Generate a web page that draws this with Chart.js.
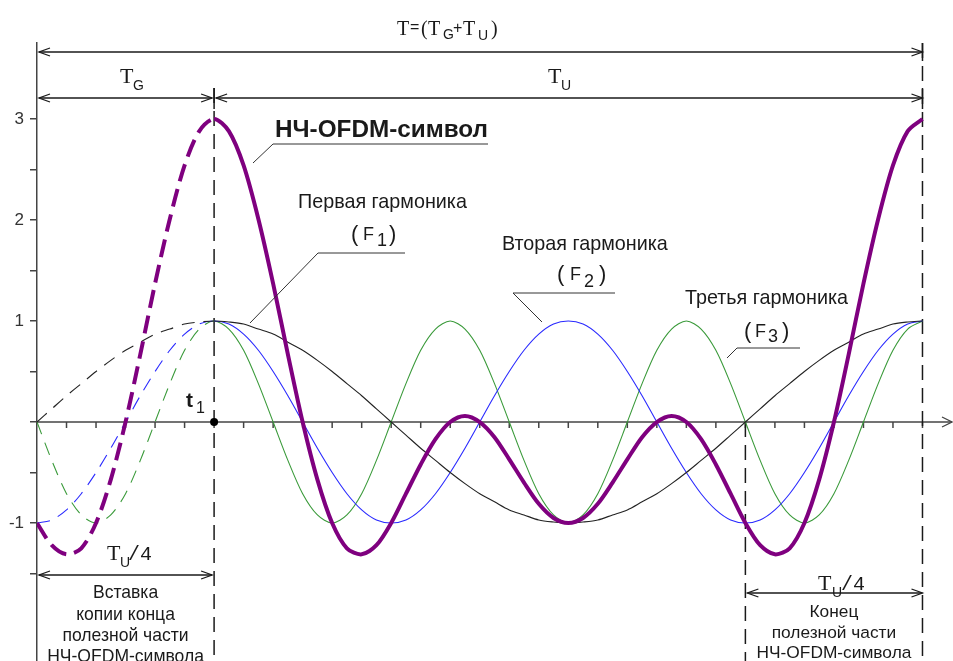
<!DOCTYPE html>
<html>
<head>
<meta charset="utf-8">
<script src="https://cdn.jsdelivr.net/npm/chart.js@4.4.1/dist/chart.umd.min.js"></script>
<style>
  html, body { margin: 0; padding: 0; background: #fff; }
  canvas { display: block; }
</style>
</head>
<body>
<canvas id="c" width="953" height="661"></canvas>
<script>
// time axis in samples: T_U = 48 samples, guard T_G = T_U/4 = 12 samples (t1 = 0)
const tSamples = [-12,-11,-10,-9,-8,-7,-6,-5,-4,-3,-2,-1,
  0,1,2,3,4,5,6,7,8,9,10,11,12,13,14,15,16,17,18,19,20,21,22,23,
  24,25,26,27,28,29,30,31,32,33,34,35,36,37,38,39,40,41,42,43,44,45,46,47,48];

// first harmonic F1
const harm1 = [0,0.13,0.26,0.38,0.5,0.61,0.71,0.79,0.87,0.92,0.97,0.99,
  1,0.99,0.97,0.92,0.87,0.79,0.71,0.61,0.5,0.38,0.26,0.13,
  0,-0.13,-0.26,-0.38,-0.5,-0.61,-0.71,-0.79,-0.87,-0.92,-0.97,-0.99,
  -1,-0.99,-0.97,-0.92,-0.87,-0.79,-0.71,-0.61,-0.5,-0.38,-0.26,-0.13,
  0,0.13,0.26,0.38,0.5,0.61,0.71,0.79,0.87,0.92,0.97,0.99,
  1];

// second harmonic F2
const harm2 = [-1,-0.97,-0.87,-0.71,-0.5,-0.26,0,0.26,0.5,0.71,0.87,0.97,
  1,0.97,0.87,0.71,0.5,0.26,0,-0.26,-0.5,-0.71,-0.87,-0.97,
  -1,-0.97,-0.87,-0.71,-0.5,-0.26,0,0.26,0.5,0.71,0.87,0.97,
  1,0.97,0.87,0.71,0.5,0.26,0,-0.26,-0.5,-0.71,-0.87,-0.97,
  -1,-0.97,-0.87,-0.71,-0.5,-0.26,0,0.26,0.5,0.71,0.87,0.97,
  1];

// third harmonic F3
const harm3 = [0,-0.38,-0.71,-0.92,-1,-0.92,-0.71,-0.38,0,0.38,0.71,0.92,
  1,0.92,0.71,0.38,0,-0.38,-0.71,-0.92,-1,-0.92,-0.71,-0.38,0,0.38,0.71,0.92,
  1,0.92,0.71,0.38,0,-0.38,-0.71,-0.92,-1,-0.92,-0.71,-0.38,0,0.38,0.71,0.92,
  1,0.92,0.71,0.38,0,-0.38,-0.71,-0.92,-1,-0.92,-0.71,-0.38,0,0.38,0.71,0.92,
  1];

// НЧ-OFDM symbol (sum of the three)
const symbol = [-1,-1.22,-1.31,-1.25,-1,-0.57,0,0.67,1.37,2.01,2.54,2.88,
  3,2.88,2.54,2.01,1.37,0.67,0,-0.57,-1,-1.25,-1.31,-1.22,
  -1,-0.71,-0.42,-0.17,0,0.06,0,-0.15,-0.37,-0.6,-0.81,-0.95,
  -1,-0.95,-0.81,-0.6,-0.37,-0.15,0,0.06,0,-0.17,-0.42,-0.71,
  -1,-1.22,-1.31,-1.25,-1,-0.57,0,0.67,1.37,2.01,2.54,2.88,
  3];

const yTicks = [-1.5, -1, -0.5, 0, 0.5, 1, 1.5, 2, 2.5, 3];
const yLabels = { "3": "3", "2": "2", "1": "1", "-1": "-1" };

const INK = "#1a1a1a";
const AXIS = "#444";
const SANS = '"Liberation Sans", Arial, sans-serif';
const SERIF = '"Liberation Serif", "Times New Roman", serif';
const MONO = '"Liberation Mono", "Courier New", monospace';

function series(label, values, color, width, dash) {
  return {
    label,
    data: tSamples.map((t, i) => ({ x: t, y: values[i] })),
    borderColor: color,
    borderWidth: width,
    pointRadius: 0,
    tension: 0.3,
    borderJoinStyle: "round",
    segment: { borderDash: (ctx) => (ctx.p1.parsed.x <= 0 ? dash : undefined) }
  };
}

function seg(ctx, pts, w, color, dash) {
  ctx.save();
  ctx.beginPath();
  ctx.lineWidth = w;
  ctx.strokeStyle = color;
  ctx.setLineDash(dash || []);
  pts.forEach((p, i) => (i ? ctx.lineTo(p[0], p[1]) : ctx.moveTo(p[0], p[1])));
  ctx.stroke();
  ctx.restore();
}

function head(ctx, x, y, dir, color, len, half) {
  seg(ctx, [[x - dir * (len || 11), y - (half || 4)], [x, y], [x - dir * (len || 11), y + (half || 4)]], 1.3, color || INK);
}

function dim(ctx, x1, x2, y) {
  seg(ctx, [[x1, y], [x2, y]], 1.5, INK);
  head(ctx, x1, y, -1);
  head(ctx, x2, y, 1);
}

function txt(ctx, s, x, y, font, align, color) {
  ctx.save();
  ctx.font = font;
  ctx.textAlign = align || "left";
  ctx.textBaseline = "alphabetic";
  ctx.fillStyle = color || INK;
  ctx.fillText(s, x, y);
  ctx.restore();
}

function sizeFor(ctx, s, width, weight, family) {
  ctx.save();
  ctx.font = `${weight} 100px ${family}`;
  const w = ctx.measureText(s).width;
  ctx.restore();
  return 100 * width / w;
}

function glyphs(ctx, list) {
  list.forEach(([s, x, y, font]) => txt(ctx, s, x, y, font));
}

function block(ctx, lines, cx, baselines, widest, width) {
  const size = sizeFor(ctx, widest, width, "normal", SANS);
  lines.forEach((s, i) => txt(ctx, s, cx, baselines[i], `${size}px ${SANS}`, "center"));
}

const annot = {
  id: "annot",
  beforeDatasetsDraw(chart) {
    const { ctx, chartArea, scales: { x, y } } = chart;
    const X = (v) => x.getPixelForValue(v);
    const y0 = y.getPixelForValue(0);
    const bot = chartArea.bottom;

    // horizontal time axis with arrow
    seg(ctx, [[X(-12), y0], [chartArea.right, y0]], 1.5, AXIS);
    head(ctx, chartArea.right, y0, 1, AXIS, 10, 5);
    for (let t = -10; t <= 48; t += 2) seg(ctx, [[X(t), y0], [X(t), y0 + 6]], 1.5, AXIS);

    // dashed boundaries
    const dash = [15, 8];
    seg(ctx, [[X(0), 88], [X(0), bot]], 1.5, INK, dash);
    seg(ctx, [[X(48), 43], [X(48), bot]], 1.5, INK, dash);
    seg(ctx, [[X(36), y0], [X(36), bot]], 1.5, INK, dash);
    seg(ctx, [[X(0), 88], [X(0), 109]], 1.5, INK);
    seg(ctx, [[X(48), 43], [X(48), 61]], 1.5, INK);
    seg(ctx, [[X(48), 88], [X(48), 109]], 1.5, INK);
  },
  afterDatasetsDraw(chart) {
    const { ctx, scales: { x, y } } = chart;
    const X = (v) => x.getPixelForValue(v);
    const y0 = y.getPixelForValue(0);
    const T = `20px ${SERIF}`;
    const TB = `22px ${SERIF}`;
    const SUB = `14px ${SANS}`;
    const OP = `16px ${SANS}`;
    const PAR = `22px ${SANS}`;
    const F = `18px ${SANS}`;

    // dimension arrows
    dim(ctx, X(-12) + 2, X(48), 52);
    dim(ctx, X(-12) + 2, X(0) - 2, 98);
    dim(ctx, X(0) + 2, X(48), 98);
    dim(ctx, X(-12) + 2, X(0) - 2, 575);
    dim(ctx, X(36) + 2, X(48), 593);

    // period labels
    glyphs(ctx, [
      ["T", 397, 35, T], ["=", 410, 32, OP], ["(", 421, 35, `20px ${SERIF}`],
      ["T", 428, 35, T], ["G", 443, 39, SUB], ["+", 453, 33, OP],
      ["T", 463, 35, T], ["U", 478, 40, SUB], [")", 491, 35, `20px ${SERIF}`],
      ["T", 120, 83, TB], ["G", 133, 90, SUB],
      ["T", 548, 83, TB], ["U", 561, 90, SUB],
      ["T", 107, 560, TB], ["U", 120, 567, SUB], ["/", 128, 560, `20px ${MONO}`], ["4", 140, 560, `20px ${MONO}`],
      ["T", 818, 590, TB], ["U", 832, 597, SUB], ["/", 841, 590, `20px ${MONO}`], ["4", 853, 590, `20px ${MONO}`]
    ]);

    // symbol label with leader
    const big = sizeFor(ctx, "НЧ-OFDM-символ", 213, "bold", SANS);
    txt(ctx, "НЧ-OFDM-символ", 275, 137, `bold ${big}px ${SANS}`);
    seg(ctx, [[253, 163], [273, 144], [488, 144]], 1, "#333");

    // harmonic labels
    const hs = sizeFor(ctx, "Первая гармоника", 169, "normal", SANS);
    const hf = `${hs}px ${SANS}`;
    txt(ctx, "Первая гармоника", 298, 208, hf);
    txt(ctx, "Вторая гармоника", 502, 250, hf);
    txt(ctx, "Третья гармоника", 685, 304, hf);
    glyphs(ctx, [
      ["(", 351, 241, PAR], ["F", 363, 240, F], ["1", 377, 246, F], [")", 389, 241, PAR],
      ["(", 557, 281, PAR], ["F", 570, 280, F], ["2", 584, 287, F], [")", 599, 281, PAR],
      ["(", 744, 338, PAR], ["F", 755, 337, F], ["3", 768, 342, F], [")", 782, 338, PAR]
    ]);
    seg(ctx, [[250, 323], [318, 253], [405, 253]], 1, "#333");
    seg(ctx, [[542, 322], [513, 293], [615, 293]], 1, "#333");
    seg(ctx, [[727, 358], [737, 348], [800, 348]], 1, "#333");

    // t1 marker
    ctx.save();
    ctx.fillStyle = "#000";
    ctx.beginPath();
    ctx.arc(X(0), y0, 4, 0, Math.PI * 2);
    ctx.fill();
    ctx.restore();
    txt(ctx, "t", 186, 407, `bold 21px ${SANS}`);
    txt(ctx, "1", 196, 413, `16px ${SANS}`);

    // bottom captions
    block(ctx, ["Вставка", "копии конца", "полезной части", "НЧ-OFDM-символа"],
      (X(-12) + X(0)) / 2, [598, 620, 641, 662], "НЧ-OFDM-символа", 157);
    block(ctx, ["Конец", "полезной части", "НЧ-OFDM-символа"],
      (X(36) + X(48)) / 2, [617, 638, 658], "НЧ-OFDM-символа", 155);
  }
};

new Chart(document.getElementById("c"), {
  type: "line",
  data: {
    datasets: [
      series("НЧ-OFDM-символ", symbol, "#7f007f", 4, [18, 8]),
      series("Первая гармоника (F1)", harm1, "#222", 1.1, [13, 9]),
      series("Вторая гармоника (F2)", harm2, "#2a2aff", 1.1, [13, 9]),
      series("Третья гармоника (F3)", harm3, "#3a9a3a", 1.1, [13, 9])
    ]
  },
  options: {
    responsive: false,
    animation: false,
    devicePixelRatio: 1,
    layout: { padding: { top: 43, right: 1, bottom: 0, left: 0 } },
    plugins: { legend: { display: false }, tooltip: { enabled: false } },
    scales: {
      x: { type: "linear", display: false, min: -12, max: 50 },
      y: {
        type: "linear",
        min: -2.366,
        max: 3.752,
        afterBuildTicks(scale) {
          scale.ticks = yTicks.map((v) => ({ value: v }));
        },
        afterFit(scale) {
          scale.width = 37;
          scale.paddingTop = 0;
          scale.paddingBottom = 0;
        },
        grid: { drawOnChartArea: false, drawTicks: true, tickLength: 7, color: AXIS, lineWidth: 1.5 },
        border: { display: true, color: AXIS, width: 1.5 },
        ticks: {
          autoSkip: false,
          padding: 6,
          color: "#333",
          font: { size: 17, family: SANS },
          callback: (v) => yLabels[String(v)] || ""
        }
      }
    }
  },
  plugins: [annot]
});
</script>
</body>
</html>
